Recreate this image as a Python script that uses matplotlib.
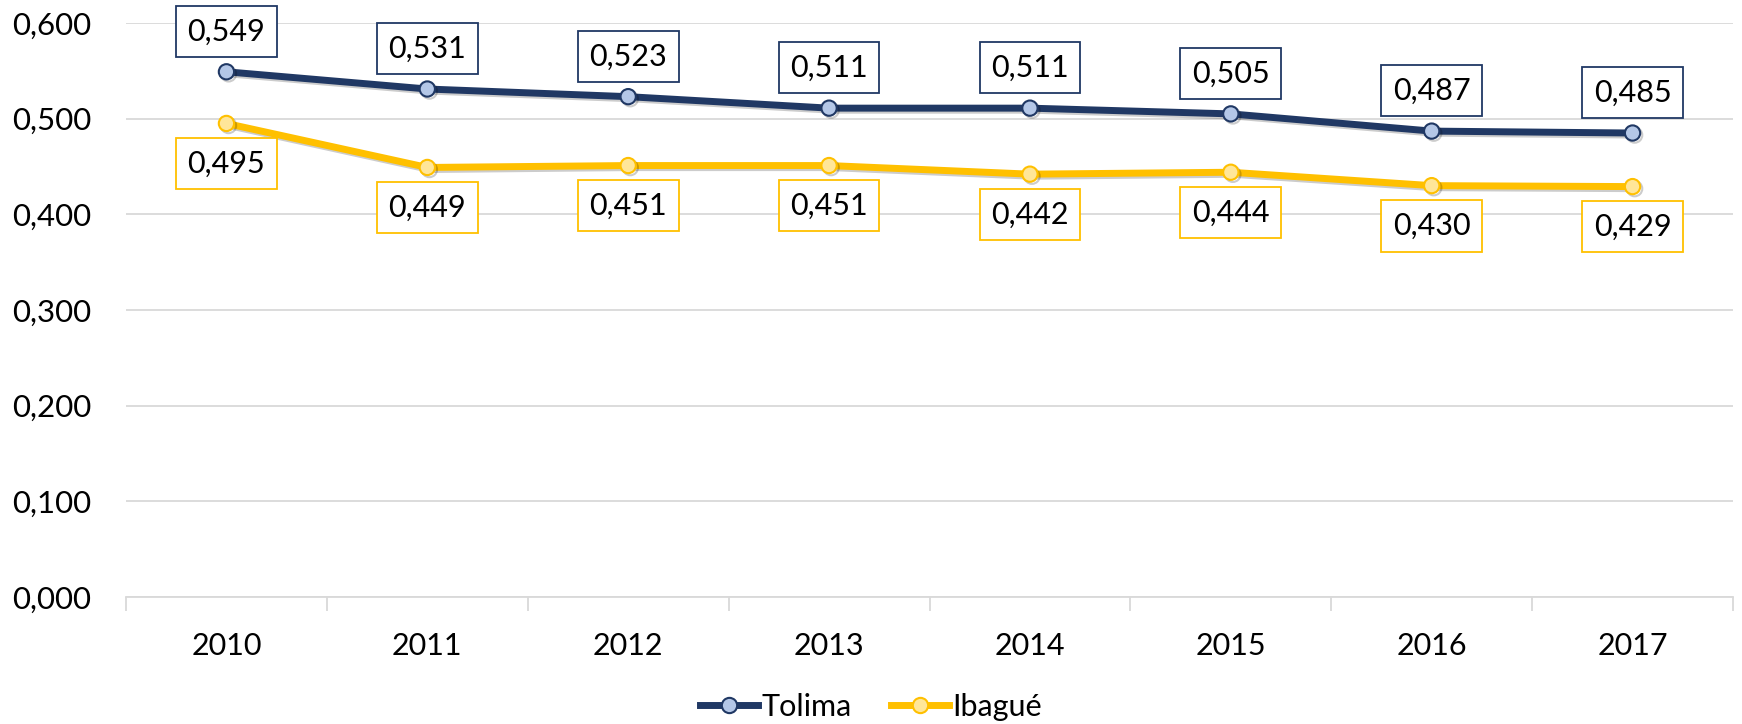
import numpy as np
import matplotlib.pyplot as plt
import matplotlib.patheffects as pe

plt.rcParams['font.family'] = ['Lato', 'DejaVu Sans']

# ---- data ----
years = ['2010', '2011', '2012', '2013', '2014', '2015', '2016', '2017']
tolima = [0.549, 0.531, 0.523, 0.511, 0.511, 0.505, 0.487, 0.485]
ibague = [0.495, 0.449, 0.451, 0.451, 0.442, 0.444, 0.430, 0.429]

navy = '#203864'
navy_fill = '#B4C7E7'
gold = '#FFC000'
gold_fill = '#FFE699'

fig = plt.figure(figsize=(17.42, 7.24), dpi=100)
ax = fig.add_axes([126 / 1742, 1 - 597 / 724, (1733 - 126) / 1742, (597 - 23) / 724])

x = np.arange(len(years))
shadow = [pe.SimpleLineShadow(offset=(1.5, -1.5), alpha=0.2), pe.Normal()]

ax.plot(x, tolima, color=navy, lw=5, marker='o', ms=11, mfc=navy_fill, mec=navy,
        mew=1.5, zorder=4, path_effects=shadow)
ax.plot(x, ibague, color=gold, lw=5, marker='o', ms=11, mfc=gold_fill, mec=gold,
        mew=1.5, zorder=3, path_effects=shadow)

def fmt(v):
    return f'{v:.3f}'.replace('.', ',')

for xi, v in zip(x, tolima):
    ax.annotate(fmt(v), (xi, v), xytext=(0, 29), textcoords='offset points',
                ha='center', va='center', fontsize=22,
                bbox=dict(boxstyle='square,pad=0.38', fc='white', ec=navy, lw=1.3),
                zorder=6)
for xi, v in zip(x, ibague):
    ax.annotate(fmt(v), (xi, v), xytext=(0, -29), textcoords='offset points',
                ha='center', va='center', fontsize=22,
                bbox=dict(boxstyle='square,pad=0.38', fc='white', ec=gold, lw=1.3),
                zorder=6)

ax.set_xlim(-0.5, len(years) - 0.5)
ax.set_ylim(0, 0.6)
ax.set_yticks(np.arange(0, 0.61, 0.1))
ax.set_yticklabels([fmt(t) for t in np.arange(0, 0.61, 0.1)], fontsize=22.5)
ax.yaxis.grid(True, color='#D9D9D9', lw=1.3)
ax.set_axisbelow(True)
ax.tick_params(axis='y', length=0, pad=25)

ax.set_xticks(x)
ax.set_xticklabels(years, fontsize=22)
ax.set_xticks(np.arange(-0.5, len(years), 1), minor=True)
ax.tick_params(axis='x', which='major', length=0, pad=25)
ax.tick_params(axis='x', which='minor', length=10, color='#D9D9D9', width=1.3)

for s in ['top', 'right', 'left']:
    ax.spines[s].set_visible(False)
ax.spines['bottom'].set_color('#D9D9D9')
ax.spines['bottom'].set_linewidth(1.3)

h1 = plt.Line2D([], [], color=navy, lw=5, marker='o', ms=11, mfc=navy_fill, mec=navy, mew=1.5)
h2 = plt.Line2D([], [], color=gold, lw=5, marker='o', ms=11, mfc=gold_fill, mec=gold, mew=1.5)
fig.legend([h1, h2], ['Tolima', 'Ibagué'], loc='center', bbox_to_anchor=(0.5, 1 - 707 / 724),
           ncol=2, frameon=False, fontsize=22, handlelength=1.9, columnspacing=1.3,
           handletextpad=0.1)

fig.savefig('out.png', dpi=100)
